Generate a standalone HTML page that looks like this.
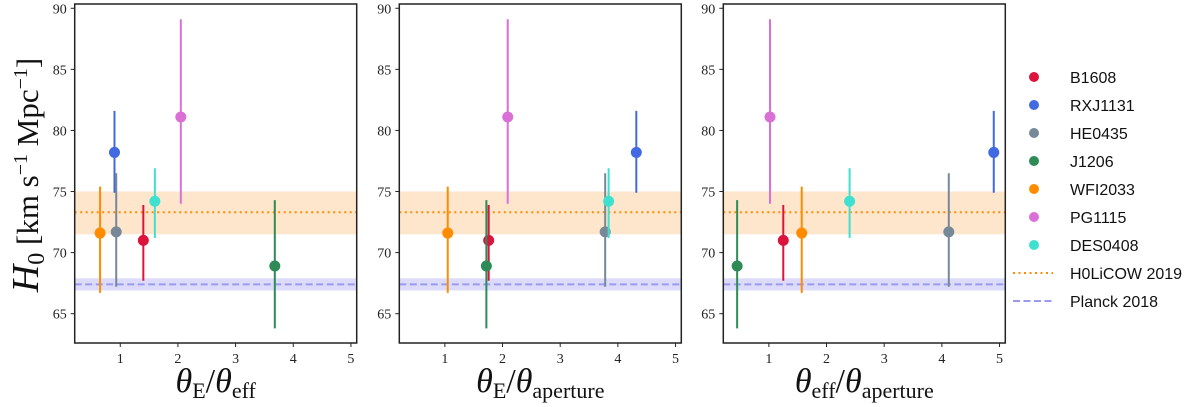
<!DOCTYPE html>
<html><head><meta charset="utf-8"><style>
body{margin:0;background:#fff}
svg{display:block}
text{font-family:"Liberation Serif",serif}
</style></head><body>
<svg id="c" width="1200" height="407"></svg>
<script>
const names=["B1608","RXJ1131","HE0435","J1206","WFI2033","PG1115","DES0408"];
const colors=["#dc143c","#4169e1","#778899","#2e8b57","#ff8c00","#da70d6","#40e0d0"];
const h0=[71.0,78.2,71.7,68.9,71.6,81.1,74.2];
const errLo=[3.3,3.3,4.5,5.1,4.9,7.1,3.0];
const errHi=[2.9,3.4,4.8,5.4,3.8,8.0,2.7];
const xP1=[1.4,0.9,0.93,3.68,0.65,2.05,1.6];
const xP2=[1.76,4.32,3.78,1.72,1.05,2.09,3.84];
const xP3=[1.25,4.9,4.12,0.45,1.57,1.02,2.4];
const xErrP1=[0,0,0,0.08,0,0,0];
const xErrP2=[0,0,0,0,0,0,0];
const xErrP3=[0.08,0,0,0,0,0,0];
const yTicks=[65,70,75,80,85,90];
const xTicks=[1,2,3,4,5];
const h0licow=[71.5,73.3,75.0];
const planck=[66.9,67.4,67.9];
const xlabels=[["E","eff"],["E","aperture"],["eff","aperture"]];

const NS="http://www.w3.org/2000/svg";
const svg=document.getElementById('c');
function el(t,a,p){const e=document.createElementNS(NS,t);for(const k in a)e.setAttribute(k,a[k]);(p||svg).appendChild(e);return e;}
const yTop=4,yBot=343,ymin=62.6,ymax=90.35,xmin=0.21,xmax=5.1;
const lefts=[74.7,399.3,723.3],W=282;
const ys=v=>yBot-(v-ymin)/(ymax-ymin)*(yBot-yTop);
const panels=[[xP1,xErrP1],[xP2,xErrP2],[xP3,xErrP3]];
panels.forEach((p,pi)=>{
  const L=lefts[pi],xs=v=>L+(v-xmin)/(xmax-xmin)*W;
  const g=el('g',{});
  
  
  const b1=el('rect',{x:L,y:ys(h0licow[2]),width:W,height:ys(h0licow[0])-ys(h0licow[2]),fill:'#fde6cc'},g);
  
  
  const b2=el('rect',{x:L,y:ys(planck[2]),width:W,height:ys(planck[0])-ys(planck[2]),fill:'#dcdcfa'},g);
  
  
  const l1=el('line',{x1:L,x2:L+W,y1:ys(h0licow[1]),y2:ys(h0licow[1]),stroke:'#ff8c00','stroke-width':2,'stroke-dasharray':'2,3.5'},g);
  
  
  const l2=el('line',{x1:L,x2:L+W,y1:ys(planck[1]),y2:ys(planck[1]),stroke:'#9a9af0','stroke-width':2,'stroke-dasharray':'7,3.5'},g);
  
  
  names.forEach((n,i)=>{
    const x=xs(p[0][i]),y=ys(h0[i]);
    const pt=el('g',{},g);
    
    
    el('line',{x1:x,x2:x,y1:ys(h0[i]+errHi[i]),y2:ys(h0[i]-errLo[i]),stroke:colors[i],'stroke-width':2},pt);
    if(p[1][i]>0)el('line',{x1:xs(p[0][i]-p[1][i]),x2:xs(p[0][i]+p[1][i]),y1:y,y2:y,stroke:colors[i],'stroke-width':2},pt);
    el('circle',{cx:x,cy:y,r:5.5,fill:colors[i]},pt);
  });
  const fr=el('rect',{x:L,y:yTop,width:W,height:yBot-yTop,fill:'none',stroke:'#222','stroke-width':1.5},g);
  
  
  yTicks.forEach(t=>{
    el('line',{x1:L-4,x2:L,y1:ys(t),y2:ys(t),stroke:'#222'},g);
    const tx=el('text',{x:L-8,y:ys(t)+5,'text-anchor':'end','font-size':14,fill:'#222'},g);
    tx.textContent=t;
    
    
  });
  xTicks.forEach(t=>{
    el('line',{x1:xs(t),x2:xs(t),y1:yBot,y2:yBot+4,stroke:'#222'},g);
    const tx=el('text',{x:xs(t),y:yBot+20,'text-anchor':'middle','font-size':14,fill:'#222'},g);
    tx.textContent=t;
    
    
  });
  const xl=el('text',{x:L+W/2,y:392,'text-anchor':'middle','font-size':34,fill:'#111'},g);
  
  
  xl.innerHTML='<tspan font-style="italic">θ</tspan><tspan font-size="22" dy="6">'+xlabels[pi][0]+'</tspan><tspan dy="-6">/</tspan><tspan font-style="italic">θ</tspan><tspan font-size="22" dy="6">'+xlabels[pi][1]+'</tspan>';
});
const yl=el('text',{transform:'translate(38,175) rotate(-90)','text-anchor':'middle','font-size':31,fill:'#111'});


yl.innerHTML='<tspan font-style="italic" font-size="38">H</tspan><tspan font-size="24" dy="6">0</tspan><tspan dy="-6"> [km s</tspan><tspan font-size="20" dy="-11">−1</tspan><tspan dy="11"> Mpc</tspan><tspan font-size="20" dy="-11">−1</tspan><tspan dy="11">]</tspan>';
const lg=el('g',{});


names.forEach((n,i)=>{
  const y=77+i*28;
  const e=el('g',{},lg);
  
  
  el('circle',{cx:1034,cy:y,r:5,fill:colors[i]},e);
  const t=el('text',{x:1070,y:y+6,'font-size':16,fill:'#111',style:'font-family:"Liberation Sans",sans-serif'},e);t.textContent=n;
});
[["H0LiCOW 2019","#ff8c00","2,3.5"],["Planck 2018","#9a9af0","7,3.5"]].forEach((d,j)=>{
  const y=273+j*28;
  const e=el('g',{},lg);
  
  
  el('line',{x1:1013,x2:1053,y1:y,y2:y,stroke:d[1],'stroke-width':2,'stroke-dasharray':d[2]},e);
  const t=el('text',{x:1070,y:y+6,'font-size':16,fill:'#111',style:'font-family:"Liberation Sans",sans-serif'},e);t.textContent=d[0];
});
</script>
</body></html>
